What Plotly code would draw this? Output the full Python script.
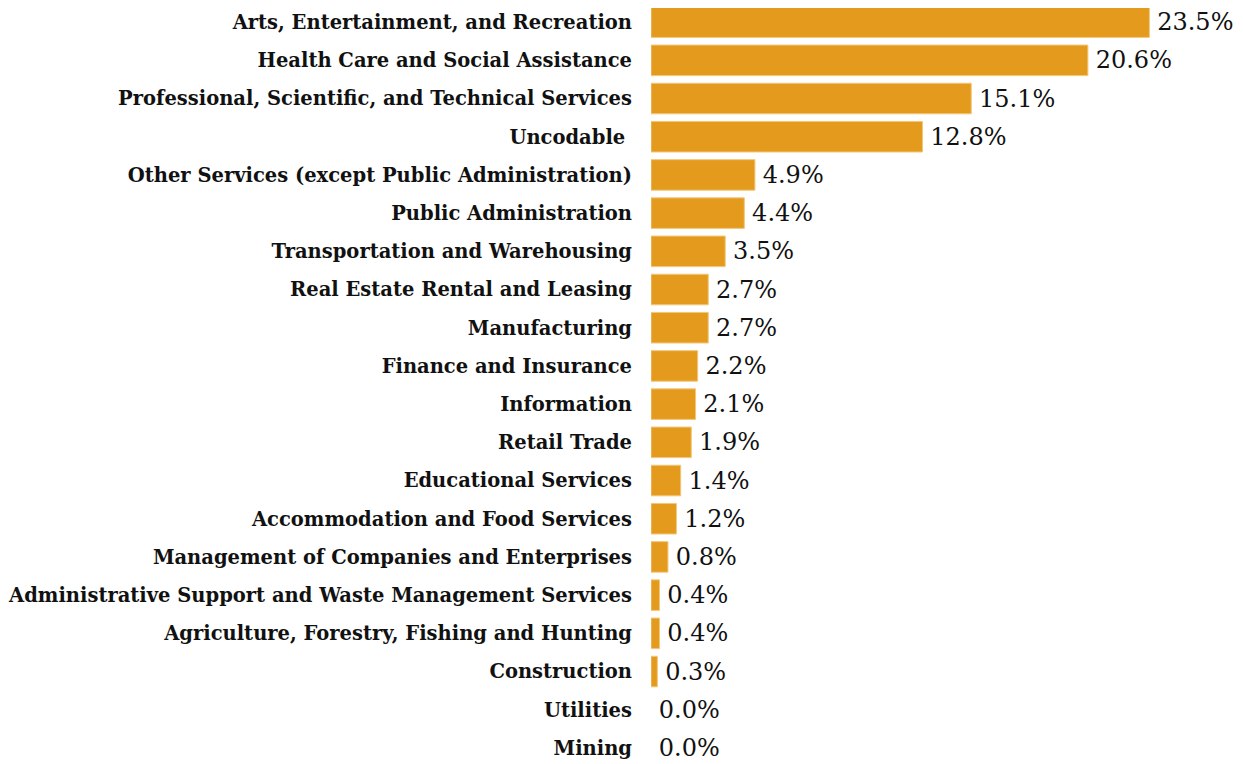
import plotly.graph_objects as go

categories = [
    "Arts, Entertainment, and Recreation",
    "Health Care and Social Assistance",
    "Professional, Scientific, and Technical Services",
    "Uncodable ",
    "Other Services (except Public Administration)",
    "Public Administration",
    "Transportation and Warehousing",
    "Real Estate Rental and Leasing",
    "Manufacturing",
    "Finance and Insurance",
    "Information",
    "Retail Trade",
    "Educational Services",
    "Accommodation and Food Services",
    "Management of Companies and Enterprises",
    "Administrative Support and Waste Management Services",
    "Agriculture, Forestry, Fishing and Hunting",
    "Construction",
    "Utilities",
    "Mining",
]
values = [23.5, 20.6, 15.1, 12.8, 4.9, 4.4, 3.5, 2.7, 2.7, 2.2, 2.1, 1.9, 1.4, 1.2, 0.8, 0.4, 0.4, 0.3, 0.0, 0.0]

line_widths = [1 if v > 0 else 0 for v in values]

fig = go.Figure(go.Bar(
    x=values,
    y=categories,
    orientation="h",
    marker=dict(color="#E49B1D", line=dict(color="#F2C77A", width=line_widths)),
    texttemplate="\u2009%{x:.1f}%",
    textposition="outside",
    textfont=dict(family="DejaVu Serif", size=24, color="#111111"),
    cliponaxis=False,
    constraintext="none",
))

fig.update_layout(
    width=1243,
    height=764,
    margin=dict(l=643, r=91, t=0, b=0),
    paper_bgcolor="white",
    plot_bgcolor="white",
    bargap=0.2,
    showlegend=False,
    xaxis=dict(range=[0, 24], visible=False, showgrid=False, zeroline=False),
    yaxis=dict(
        range=[19.63, -0.37],
        showgrid=False,
        zeroline=False,
        showline=False,
        ticks="",
        ticklabelstandoff=18,
        tickfont=dict(family="DejaVu Serif", size=19.5, color="#111111", weight="bold"),
        automargin=False,
    ),
)

fig.write_html("out.html")
